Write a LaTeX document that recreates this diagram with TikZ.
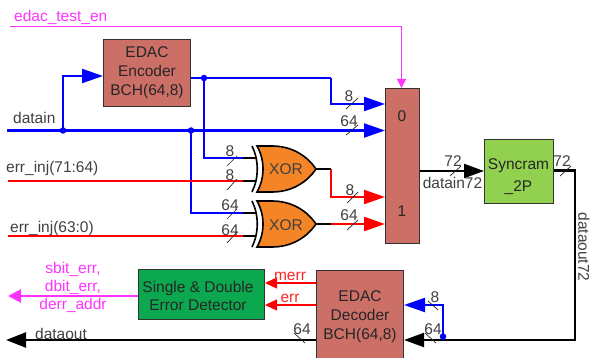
\documentclass[tikz,border=0pt]{standalone}
\usepackage{fontspec}
\setmainfont{Liberation Sans}
\usetikzlibrary{arrows.meta}
\definecolor{brick}{HTML}{CC6F67}
\definecolor{lime}{HTML}{92D14F}
\definecolor{dgreen}{HTML}{0BA84F}
\definecolor{xorfill}{HTML}{F58426}
\definecolor{magen}{HTML}{FF33FF}
\definecolor{lab}{HTML}{404040}
\tikzset{
  block/.style={draw=black!80,line width=1pt,align=center,inner sep=0pt,text=black!85,
    font=\fontsize{15.5}{19}\selectfont,anchor=north west},
  lbl/.style={anchor=base,inner sep=0pt,text=lab,font=\fontsize{15.5}{18}\selectfont},
  plbl/.style={lbl,text=magen},
  rlbl/.style={lbl,text=red!85!white},
  slash/.style={draw=black!85,line width=0.7pt},
  bl/.style={draw=blue,line width=2.2pt},
  rd/.style={draw=red,line width=2.2pt},
  bk/.style={draw=black,line width=2.2pt},
  tipL/.style={-{Triangle[length=21pt,width=14pt]}},
  tipS/.style={-{Triangle[length=12pt,width=11pt]}},
  dot/.style={circle,fill=blue,inner sep=0pt,minimum size=6.5pt},
  gate/.style={draw=black,line width=1.6pt,fill=xorfill},
  gateback/.style={draw=black,line width=1.6pt},
}
\newcommand{\buslbl}[7][lbl]{%
  \node[#1] (#2) at (#4) {#3};
  \draw[slash] (#5,#6) -- (#7);}
\newcommand{\xorshape}[2]{% name, top y
  \begin{scope}[shift={(0,#2)}]
    \draw[gateback] (252,0) .. controls (259,14) and (259,32) .. (252,46);
    \draw[gate] (257,0) -- (272,0) .. controls (293,0) and (308,11) .. (316,23)
      .. controls (308,35) and (293,46) .. (272,46) -- (257,46)
      .. controls (265,32) and (265,14) .. (257,0) -- cycle;
    \coordinate (#1a) at (255.5,12);
    \coordinate (#1b) at (255.5,35);
    \coordinate (#1o) at (316,23);
    \node[lbl] (#1t) at (286,29) {XOR};
  \end{scope}}
\begin{document}
\begin{tikzpicture}[x=1pt,y=-1pt]
\useasboundingbox[fill=white] (0,0) rectangle (591,358);
% blocks
\node[block,fill=brick,minimum width=87pt,minimum height=67pt] (enc) at (103,39) {EDAC\\Encoder\\BCH(64,8)};
\node[block,fill=brick,minimum width=34pt,minimum height=155pt] (mux) at (385,88) {};
\node[lbl,text=black!85] (mux0) at (402,122) {0};
\node[lbl,text=black!85] (mux1) at (402,216) {1};
\node[block,fill=lime,minimum width=69pt,minimum height=64pt] (sync) at (484,139) {};
\node[lbl,text=black!85] (syncA) at (518.5,169.5) {Syncram};
\node[lbl,text=black!85] (syncB) at (518.5,191) {\_2P};
\node[block,fill=brick,minimum width=87pt,minimum height=92pt] (dec) at (316,270) {EDAC\\Decoder\\BCH(64,8)};
\node[block,fill=dgreen,minimum width=126pt,minimum height=50pt] (det) at (138,269) {};
\node[lbl,text=black!85] (detA) at (198,292.5) {Single \& Double};
\node[lbl,text=black!85] (detB) at (198,310.5) {Error Detector};
% free ends and bends
\coordinate (inS) at (7,130.5);
\coordinate (jIn) at (63,130.5);
\coordinate (jB) at (191,130.5);
\coordinate (jEnc) at (204,78);
\coordinate (bend8) at (331,78);
\coordinate (mux0a) at (385,104);
\coordinate (mux0b) at (385,130.5);
\coordinate (mux1a) at (385,197);
\coordinate (mux1b) at (385,224);
\coordinate (inr1) at (8,181);
\coordinate (inr2) at (8,236);
\coordinate (tS) at (10,26.5);
\coordinate (tC) at (401.5,26.5);
\coordinate (outC) at (575,170.5);
\coordinate (outD) at (575,340);
\coordinate (jD) at (443,340);
% gates
\xorshape{xa}{146}
\xorshape{xb}{201}
% magenta
\draw[draw=magen,line width=1pt,-{Triangle[length=9pt,width=9pt]}] (tS) -- (tC) -- (tC |- mux.north);
% blue
\draw[bl] (inS) -- (jIn);
\draw[bl,tipL] (jIn) -- (mux0b);
\draw[bl,tipL] (jIn) -- (jIn |- 0,76) -- (enc.west |- 0,76);
\draw[bl] (enc.east |- jEnc) -- (bend8);
\draw[bl,tipL] (bend8) -- (bend8 |- mux0a) -- (mux0a);
\draw[bl] (jEnc) -- (jEnc |- xaa) -- (243,0 |- xaa);
\draw[bl] (jB) -- (jB |- xba) -- (243,0 |- xba);
% red
\draw[rd] (inr1) -- (243,0 |- inr1);
\draw[rd] (inr2) -- (243,0 |- inr2);
\draw[rd,tipL] (331,0 |- xao) -- (331,0 |- mux1a) -- (mux1a);
\draw[rd,tipL] (331,0 |- xbo) -- (mux1b);
% black stubs
\draw[bk] (243,0 |- xaa) -- (xaa);
\draw[bk] (243,0 |- xab) -- (xab);
\draw[bk] (243,0 |- xba) -- (xba);
\draw[bk] (243,0 |- xbb) -- (xbb);
\draw[bk] (xao) -- (331,0 |- xao);
\draw[bk] (xbo) -- (331,0 |- xbo);
% main black
\draw[bk,-{Triangle[length=20pt,width=14pt]}] (mux.east |- 0,171) -- (sync.west |- 0,171);
\draw[bk,-{Triangle[length=20pt,width=14pt]}] (sync.east |- outC) -- (outC) -- (outD) -- (dec.east |- outD);
\draw[bk,-{Triangle[length=20pt,width=15pt]}] (dec.west |- outD) -- (6,0 |- outD);
% decoder blue
\draw[bl,tipL] (jD) -- (jD |- 0,305) -- (dec.east |- 0,305);
% detector
\draw[draw=red,line width=1.2pt,tipS] (dec.west |- 0,283) -- (det.east |- 0,283);
\draw[draw=red,line width=1.2pt,tipS] (dec.west |- 0,305) -- (det.east |- 0,305);
\draw[draw=magen,line width=2.2pt,-{Triangle[length=13pt,width=13pt]}] (det.west |- 0,296) -- (8,296);
% junctions
\node[dot] (dIn) at (jIn) {};
\node[dot] (dB) at (jB) {};
\node[dot] (dEnc) at (jEnc) {};
\node[dot] (dD) at (443,336.5) {};
% labels
\node[plbl,anchor=base west] (ltest) at (14,22) {edac\_test\_en};
\node[lbl,anchor=base west] (ldatain) at (13,124) {datain};
\node[lbl,anchor=base west] (lia) at (6,172) {err\_inj(71:64)};
\node[lbl,anchor=base west] (lib) at (10,232) {err\_inj(63:0)};
\node[lbl] (ld72) at (452.5,189) {datain72};
\node[lbl,rotate=-90,anchor=center] (lo72) at (584,247) {dataout72};
\node[lbl,anchor=base west] (ldout) at (35,339) {dataout};
\node[plbl] (ls1) at (73,273) {sbit\_err,};
\node[plbl] (ls2) at (73,291) {dbit\_err,};
\node[plbl] (ls3) at (73,309) {derr\_addr};
\node[rlbl] (lm) at (290,280) {merr};
\node[rlbl] (le) at (290,302) {err};
% bus marks
\buslbl{b1}{8}{230,157}{227}{166}{237,156}
\buslbl{b2}{8}{230,180}{227}{190}{237,179}
\buslbl{b3}{64}{230,210}{227}{219}{237,209}
\buslbl{b4}{64}{230,235}{227}{243}{237,232}
\buslbl{b5}{8}{349,102}{346}{109}{358,98}
\buslbl{b6}{64}{349,127}{346}{135}{358,125}
\buslbl{b7}{8}{350,196}{347}{203}{358,192}
\buslbl{b8}{64}{349,220}{347}{230}{358,220}
\buslbl{b9}{72}{453,167}{450}{176}{461,166}
\buslbl{b10}{72}{562,167}{560}{176}{571,166}
\buslbl{b11}{8}{435,302}{428}{301}{438,310}
\buslbl{b12}{64}{433,334}{425}{333}{436,343}
\buslbl{b13}{64}{302,334}{294}{333}{305,343}
\end{tikzpicture}
\end{document}
